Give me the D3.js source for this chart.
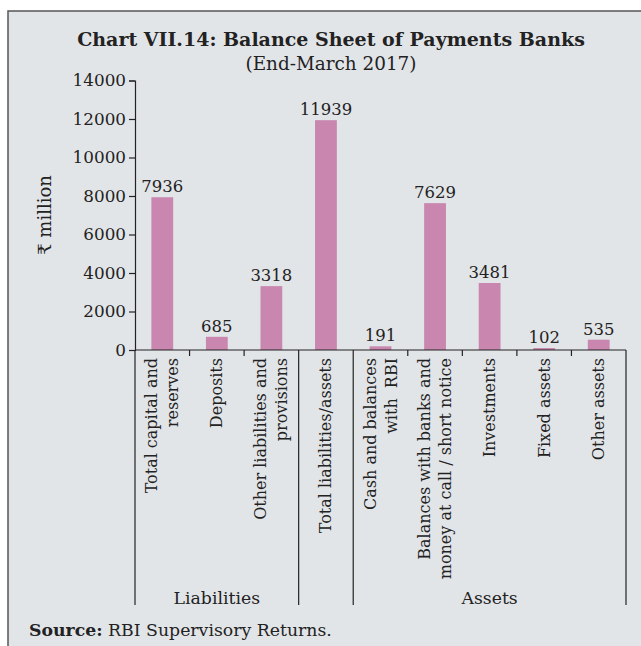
<!DOCTYPE html>
<html>
<head>
<meta charset="utf-8">
<script src="https://cdn.jsdelivr.net/npm/d3@7"></script>
<style>
  body { margin: 0; background: #fff; }
  svg { display: block; }
  .axis text { font-family: "DejaVu Serif", serif; font-size: 16.8px; fill: #222; }
  .axis line, .axis path { stroke: #222; stroke-width: 1.2; }
</style>
</head>
<body>
<script>
const categories = [
  ["Total capital and", "reserves"],
  ["Deposits"],
  ["Other liabilities and", "provisions"],
  ["Total liabilities/assets"],
  ["Cash and balances", "with  RBI"],
  ["Balances with banks and", "money at call / short notice"],
  ["Investments"],
  ["Fixed assets"],
  ["Other assets"]
];
const values = [7936, 685, 3318, 11939, 191, 7629, 3481, 102, 535];
const groups = [
  { name: "Liabilities", from: 0, to: 3 },
  { name: "", from: 3, to: 4 },
  { name: "Assets", from: 4, to: 9 }
];
const yTicks = [0, 2000, 4000, 6000, 8000, 10000, 12000, 14000];

const W = 641, H = 646;
const plotLeft = 135, plotRight = 626, plotTop = 80.5, base = 350, groupBottom = 605;
const serif = "DejaVu Serif, serif";

let svg = d3.select("body").append("svg")
  .attr("width", W)
  .attr("height", H);

// frame
svg.append("rect")
  .attr("x", 8).attr("y", 11)
  .attr("width", W + 20).attr("height", H + 20)
  .attr("fill", "#e2e5e8")
  .attr("stroke", "#555")
  .attr("stroke-width", 1.5);

svg.append("text")
  .attr("x", 331).attr("y", 46)
  .attr("text-anchor", "middle")
  .attr("font-family", serif)
  .attr("font-weight", "bold")
  .attr("font-size", 19)
  .attr("fill", "#222")
  .text("Chart VII.14: Balance Sheet of Payments Banks");

svg.append("text")
  .attr("x", 331).attr("y", 70)
  .attr("text-anchor", "middle")
  .attr("font-family", serif)
  .attr("font-size", 18.4)
  .attr("fill", "#222")
  .text("(End-March 2017)");

let x = d3.scaleBand()
  .domain(d3.range(categories.length))
  .range([plotLeft, plotRight])
  .paddingInner(0.6)
  .paddingOuter(0.3);

let y = d3.scaleLinear()
  .domain([0, 14000])
  .range([base, plotTop]);

// y axis
svg.append("g")
  .attr("class", "axis")
  .attr("transform", "translate(" + plotLeft + ",0)")
  .call(d3.axisLeft(y)
    .tickValues(yTicks)
    .tickSize(6)
    .tickSizeOuter(6)
    .tickPadding(3)
    .tickFormat(d => d));

svg.append("text")
  .attr("transform", "translate(51,215) rotate(-90)")
  .attr("text-anchor", "middle")
  .attr("font-family", serif)
  .attr("font-size", 18)
  .attr("fill", "#222")
  .text("₹ million");

// bars
svg.append("g")
  .selectAll("rect")
  .data(values)
  .join("rect")
  .attr("x", (d, i) => x(i))
  .attr("y", d => y(d))
  .attr("width", x.bandwidth())
  .attr("height", d => base - y(d))
  .attr("fill", "#c987b0");

svg.append("g")
  .selectAll("text")
  .data(values)
  .join("text")
  .attr("x", (d, i) => x(i) + x.bandwidth() / 2)
  .attr("y", d => y(d) - 5)
  .attr("text-anchor", "middle")
  .attr("font-family", serif)
  .attr("font-size", 16.5)
  .attr("fill", "#222")
  .text(d => d);

// x axis line and separators
let step = x.step();
let edge = i => plotLeft + i * step;
let xa = svg.append("g").attr("class", "axis");
xa.append("line")
  .attr("x1", plotLeft).attr("x2", plotRight)
  .attr("y1", base).attr("y2", base);
let edges = d3.range(categories.length + 1);
let longEdges = [];
groups.forEach(g => { longEdges.push(g.from, g.to); });
xa.selectAll(".sep")
  .data(edges)
  .join("line")
  .attr("class", "sep")
  .attr("x1", i => edge(i)).attr("x2", i => edge(i))
  .attr("y1", base)
  .attr("y2", i => longEdges.includes(i) ? groupBottom : base + 6);

// category labels
categories.forEach((lines, i) => {
  let cx = x(i) + x.bandwidth() / 2;
  lines.forEach((t, j) => {
    let off = (j - (lines.length - 1) / 2) * 21;
    svg.append("text")
      .attr("transform", "translate(" + (cx + off + 5.5) + "," + (base + 8) + ") rotate(-90)")
      .attr("text-anchor", "end")
      .attr("font-family", serif)
      .attr("font-size", 16)
      .attr("fill", "#222")
      .style("white-space", "pre")
      .text(t);
  });
});

// group labels
groups.forEach(g => {
  svg.append("text")
    .attr("x", (edge(g.from) + edge(g.to)) / 2)
    .attr("y", 604)
    .attr("text-anchor", "middle")
    .attr("font-family", serif)
    .attr("font-size", 17.3)
    .attr("fill", "#222")
    .text(g.name);
});

// source
let src = svg.append("text")
  .attr("x", 29).attr("y", 636)
  .attr("font-family", serif)
  .attr("font-size", 17.3)
  .attr("fill", "#222");
src.append("tspan").attr("font-weight", "bold").text("Source:");
src.append("tspan").text(" RBI Supervisory Returns.");
</script>
</body>
</html>
